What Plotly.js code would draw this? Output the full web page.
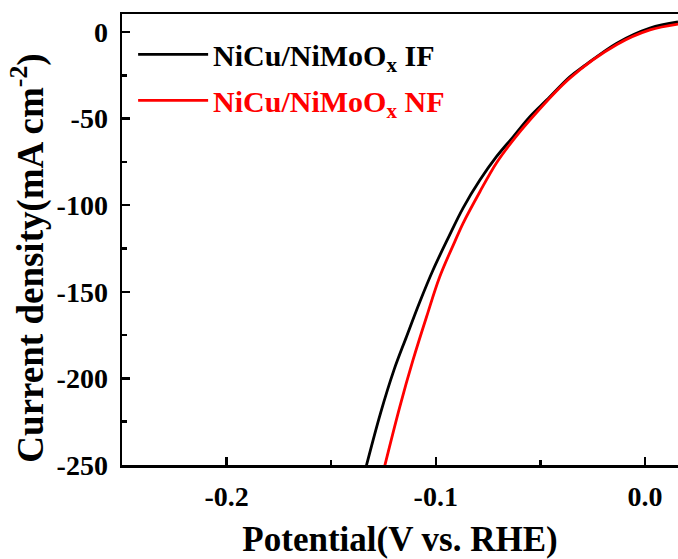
<!DOCTYPE html>
<html>
<head>
<meta charset="utf-8">
<script src="https://cdn.plot.ly/plotly-3.0.1.min.js"></script>
<style>
  html, body { margin: 0; padding: 0; background: #fff; }
  #chart { width: 678px; height: 559px; }
</style>
</head>
<body>
<div id="chart"></div>
<script>
// NiCu/NiMoOx on iron foam (IF)
const potentialIF = [-0.1332, -0.1264, -0.1200, -0.1140, -0.1077, -0.1013, -0.0941, -0.0869, -0.0789, -0.0710, -0.0630, -0.0550, -0.0470, -0.0359, -0.0297, -0.0134, 0.0024, 0.0158];
const currentIF   = [-250.5, -220, -195.2, -175.9, -156, -137.4, -119, -101.5, -85.5, -72.0, -60.5, -48.9, -39.3, -25.8, -20.2, -6.4, 2.3, 5.8];

// NiCu/NiMoOx on nickel foam (NF)
const potentialNF = [-0.1244, -0.1172, -0.1109, -0.1044, -0.0981, -0.0909, -0.0869, -0.0789, -0.0710, -0.0630, -0.0550, -0.0359, -0.0134, 0.0024, 0.0158];
const currentNF   = [-250.5, -216.4, -189.5, -164.4, -141.3, -121, -110.3, -92.2, -75.6, -62.4, -50.8, -26.6, -7.2, 1.2, 4.6];

const seriesNames = ['NiCu/NiMoO<sub>x</sub> IF', 'NiCu/NiMoO<sub>x</sub> NF'];
const seriesColors = ['#000000', '#ff0000'];
const xTickVals = [-0.2, -0.1, 0.0];
const xTickText = ['-0.2', '-0.1', '0.0'];
const yTickVals = [0, -50, -100, -150, -200, -250];
const yTickText = ['0', '-50', '-100', '-150', '-200', '-250'];

const FONT = 'Liberation Serif';

const traces = [
  { x: potentialIF, y: currentIF, legendgroup: 'a', type: 'scatter', mode: 'lines',
    name: '<span style="color:' + seriesColors[0] + '">' + seriesNames[0] + '</span>',
    line: { color: seriesColors[0], width: 2.8, shape: 'spline', smoothing: 1.0 } },
  { x: potentialNF, y: currentNF, legendgroup: 'b', type: 'scatter', mode: 'lines',
    name: '<span style="color:' + seriesColors[1] + '">' + seriesNames[1] + '</span>',
    line: { color: seriesColors[1], width: 2.8, shape: 'spline', smoothing: 1.0 } }
];

const layout = {
  width: 678, height: 559,
  margin: { l: 122, r: 0, t: 14, b: 94, pad: 0 },
  paper_bgcolor: '#ffffff', plot_bgcolor: '#ffffff',
  font: { family: FONT, color: '#000', size: 28, weight: 'bold' },
  showlegend: true,
  legend: {
    x: 0.02, y: 0.968, xanchor: 'left', yanchor: 'top',
    bgcolor: 'rgba(0,0,0,0)', borderwidth: 0,
    itemwidth: 70, tracegroupgap: 4,
    font: { family: FONT, size: 30, weight: 'bold', color: '#000' }
  },
  xaxis: {
    range: [-0.25, 0.0158], autorange: false,
    tickmode: 'array', tickvals: xTickVals, ticktext: xTickText,
    ticks: 'inside', ticklen: 8, tickwidth: 2.5, tickcolor: '#000',
    minor: { ticks: 'inside', ticklen: 5, tickwidth: 2.5, tickcolor: '#000', tickmode: 'array', tickvals: [-0.15, -0.05] },
    showline: true, linewidth: 2.5, linecolor: '#000', mirror: true,
    showgrid: false, zeroline: false,
    tickfont: { family: FONT, size: 28, weight: 'bold', color: '#000' },
    ticklabelstandoff: 5,
    title: { text: 'Potential(V vs. RHE)', font: { family: FONT, size: 35, weight: 'bold', color: '#000' }, standoff: 20 },
    automargin: false
  },
  yaxis: {
    range: [-250, 10.4], autorange: false,
    tickmode: 'array', tickvals: yTickVals, ticktext: yTickText,
    ticks: 'inside', ticklen: 8, tickwidth: 2.5, tickcolor: '#000',
    minor: { ticks: 'inside', ticklen: 5, tickwidth: 2.5, tickcolor: '#000', tickmode: 'array', tickvals: [-25, -75, -125, -175, -225] },
    showline: true, linewidth: 2.5, linecolor: '#000', mirror: false,
    showgrid: false, zeroline: false,
    tickfont: { family: FONT, size: 28, weight: 'bold', color: '#000' },
    ticklabelstandoff: 6,
    title: { text: 'Current density(mA cm<sup>-2</sup>)\u00A0\u00A0\u00A0\u00A0\u200B', font: { family: FONT, size: 37, weight: 'bold', color: '#000' }, standoff: 2 },
    automargin: false
  }
};

Plotly.newPlot('chart', traces, layout, { displayModeBar: false, staticPlot: true });
</script>
</body>
</html>
